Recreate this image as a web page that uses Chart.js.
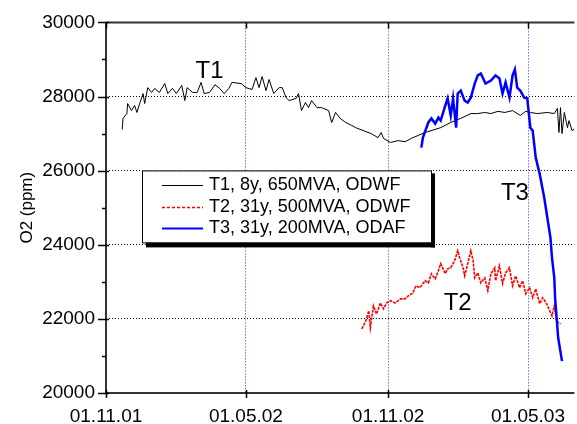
<!DOCTYPE html>
<html>
<head>
<meta charset="utf-8">
<script src="https://cdn.jsdelivr.net/npm/chart.js@4"></script>
<style>
  body { margin: 0; background: #fff; }
  #wrap { width: 577px; height: 424px; }
</style>
</head>
<body>
<div id="wrap"><canvas id="o2Chart" width="577" height="424"></canvas></div>
<script>
// x values are days since 01.11.01
const xTickDays = [0, 181, 365, 546];
const xTickLabels = ['01.11.01', '01.05.02', '01.11.02', '01.05.03'];
const xMaxDay = 606;

const yMin = 20000;
const yMax = 30000;

const seriesNames = ['T1, 8y, 650MVA, ODWF', 'T2, 31y, 500MVA, ODWF', 'T3, 31y, 200MVA, ODAF'];
const seriesColors = ['#000000', '#ff0000', '#0000ff'];

const t1Days = [21, 22, 27, 28, 33, 37, 40, 44, 48, 50, 54, 59, 63, 69, 76, 80, 86, 91, 98, 102,
    105, 112, 118, 123, 127, 134, 141, 147, 153, 159, 163, 175, 181, 189, 194, 198, 202, 207, 211, 217,
    224, 228, 233, 237, 246, 249, 253, 258, 262, 266, 273, 279, 288, 292, 297, 303, 310, 318, 323, 343,
    352, 356, 359, 368, 378, 387, 395, 404, 413, 433, 446, 459, 472, 481, 490, 498, 507, 516, 526, 536,
    543, 549, 558, 571, 580, 584, 586, 588, 590, 593, 597, 599, 603, 606];
const t1Ppm = [27110, 27410, 27540, 27810, 27620, 27760, 27570, 27840, 28080, 27810, 28240, 28110, 28220, 28110, 28350, 28080, 28220, 28080, 28300, 27890,
    28240, 28110, 28110, 28380, 28080, 28110, 28320, 28220, 28080, 28220, 28380, 28350, 28240, 28190, 28510, 28240, 28540, 28160, 28460, 28080,
    28240, 28240, 27970, 27890, 27950, 28080, 27620, 27840, 27700, 27890, 27700, 27700, 27620, 27300, 27570, 27410, 27300, 27220, 27160, 27000,
    26890, 27030, 26870, 26760, 26810, 26780, 26870, 26950, 27030, 27160, 27300, 27410, 27540, 27540, 27570, 27540, 27600, 27570, 27620, 27490,
    27600, 27570, 27540, 27570, 27540, 27680, 27030, 27700, 27000, 27570, 27160, 27350, 27080, 27130];

const t2Days = [331, 336, 340, 342, 346, 350, 355, 359, 363, 368, 374, 381, 387, 391, 397, 401, 406, 413, 417, 421,
    426, 430, 433, 439, 442, 446, 451, 455, 458, 462, 464, 468, 472, 475, 477, 481, 485, 490, 494, 498,
    503, 504, 509, 513, 517, 522, 526, 530, 535, 539, 543, 548, 552, 556, 561, 565, 570, 574, 577, 580,
    583, 588];
const t2Ppm = [21730, 21940, 22220, 21760, 22350, 22130, 22430, 22270, 22430, 22490, 22430, 22540, 22540, 22620, 22700, 22890, 22840, 23030, 22970, 23220,
    23080, 23300, 23490, 23220, 23350, 23380, 23570, 23840, 23620, 23380, 23160, 23490, 23840, 23570, 23110, 23240, 22970, 23110, 22760, 23220,
    23380, 23030, 23430, 22950, 23240, 23380, 22890, 23160, 22840, 23030, 22680, 22840, 22570, 22810, 22410, 22570, 22410, 22220, 22080, 22350,
    21940, 21860];

const t3Days = [408, 410, 417, 421, 426, 430, 433, 439, 442, 446, 449, 453, 455, 459, 464, 468, 472, 477, 481, 485,
    491, 498, 504, 509, 513, 517, 522, 526, 529, 532, 536, 541, 545, 549, 552, 556, 561, 567, 571, 575,
    577, 580, 581, 583, 585, 590];
const t3Ppm = [26620, 26890, 27300, 27410, 27270, 27430, 27350, 27760, 27950, 27490, 27950, 27160, 28080, 28160, 27890, 27840, 27970, 28350, 28570, 28620,
    28350, 28430, 28570, 28490, 28080, 28380, 27970, 28570, 28730, 28240, 28160, 27970, 27950, 27160, 27080, 26350, 25920, 25270, 24730, 24190,
    23650, 23110, 22570, 22030, 21490, 20860];

// in-plot labels, placed in data coordinates
const tagText = ['T1', 'T2', 'T3'];
const tagDays = [134, 455, 529];
const tagPpm = [28680, 22430, 25380];

const FONT = "'Liberation Sans', Arial, sans-serif";

function toPoints(days, ppm) {
    return days.map((d, i) => ({ x: d, y: ppm[i] }));
}

const framePlugin = {
    id: 'frame',
    afterDatasetsDraw(chart) {
        const ctx = chart.ctx;
        const area = chart.chartArea;
        const xs = chart.scales.x;
        const ys = chart.scales.y;

        ctx.save();
        // axis lines
        ctx.strokeStyle = '#333';
        ctx.lineWidth = 2;
        ctx.beginPath();
        ctx.moveTo(area.left, area.top);
        ctx.lineTo(area.left, area.bottom);
        ctx.lineTo(area.right, area.bottom);
        ctx.moveTo(area.left, area.top);
        ctx.lineTo(area.right, area.top);
        ctx.stroke();

        // tick marks
        ctx.strokeStyle = '#000';
        ctx.lineWidth = 1.5;
        ctx.beginPath();
        for (let v = yMin; v <= yMax; v += 1000) {
            const py = Math.round(ys.getPixelForValue(v)) + 0.5;
            const major = v % 2000 === 0;
            ctx.moveTo(area.left - (major ? 8 : 4), py);
            ctx.lineTo(area.left + (major ? 3 : 0), py);
        }
        xTickDays.forEach(d => {
            const px = Math.round(xs.getPixelForValue(d)) + 0.5;
            ctx.moveTo(px, area.bottom - 3);
            ctx.lineTo(px, area.bottom + 5);
            ctx.moveTo(px, area.top);
            ctx.lineTo(px, area.top + 6);
        });
        ctx.stroke();

        // legend box with shadow
        const lx = area.left + 36, ly = area.top + 148, lw = 289, lh = 72;
        ctx.fillStyle = '#000';
        ctx.fillRect(lx + 4, ly + lh, lw, 5);
        ctx.fillRect(lx + lw, ly + 3, 4, lh + 2);
        ctx.fillStyle = '#fff';
        ctx.fillRect(lx, ly, lw, lh);
        ctx.strokeStyle = '#000';
        ctx.lineWidth = 1;
        ctx.strokeRect(lx + 0.5, ly + 0.5, lw, lh);

        ctx.font = '18px ' + FONT;
        ctx.textBaseline = 'middle';
        ctx.textAlign = 'left';
        seriesNames.forEach((name, i) => {
            const ry = Math.round(ly + 15 + i * 21.5) + 0.5;
            ctx.save();
            ctx.strokeStyle = seriesColors[i];
            ctx.lineWidth = i === 2 ? 2 : (i === 1 ? 1.5 : 1);
            ctx.setLineDash(i === 1 ? [3, 2] : []);
            ctx.beginPath();
            ctx.moveTo(lx + 20, ry);
            ctx.lineTo(lx + 61, ry);
            ctx.stroke();
            ctx.restore();
            ctx.fillStyle = '#000';
            ctx.fillText(name, lx + 67, ry);
        });

        // T1 / T2 / T3 tags
        ctx.font = '24px ' + FONT;
        ctx.textAlign = 'center';
        ctx.fillStyle = '#000';
        tagText.forEach((t, i) => {
            ctx.fillText(t, xs.getPixelForValue(tagDays[i]), ys.getPixelForValue(tagPpm[i]));
        });
        ctx.restore();
    }
};

const chart = new Chart(document.getElementById('o2Chart').getContext('2d'), {
    type: 'line',
    data: {
        datasets: [{
            label: seriesNames[0],
            data: toPoints(t1Days, t1Ppm),
            borderColor: seriesColors[0],
            borderWidth: 1,
            pointRadius: 0,
            tension: 0,
            order: 2
        }, {
            label: seriesNames[1],
            data: toPoints(t2Days, t2Ppm),
            borderColor: seriesColors[1],
            borderWidth: 1.6,
            borderDash: [3, 1],
            pointRadius: 0,
            tension: 0,
            order: 1
        }, {
            label: seriesNames[2],
            data: toPoints(t3Days, t3Ppm),
            borderColor: seriesColors[2],
            borderWidth: 2.5,
            pointRadius: 0,
            tension: 0,
            order: 0
        }]
    },
    options: {
        responsive: false,
        animation: false,
        devicePixelRatio: 1,
        layout: {
            padding: { top: 22, right: 0, bottom: 0, left: 0 }
        },
        plugins: {
            legend: { display: false },
            tooltip: { enabled: false }
        },
        scales: {
            x: {
                type: 'linear',
                min: 0,
                max: xMaxDay,
                afterBuildTicks: scale => {
                    scale.ticks = xTickDays.map(v => ({ value: v }));
                },
                afterFit: scale => {
                    scale.height = 31;
                },
                ticks: {
                    autoSkip: false,
                    maxRotation: 0,
                    padding: 12,
                    color: '#000',
                    font: { family: FONT, size: 19 },
                    callback: v => xTickLabels[xTickDays.indexOf(v)]
                },
                grid: {
                    drawTicks: false,
                    lineWidth: 1,
                    color: c => (c.tick && c.tick.value === 0) ? 'rgba(0,0,0,0)' : '#2a2aff'
                },
                border: { display: false, dash: [1, 2] }
            },
            y: {
                min: yMin,
                max: yMax,
                afterFit: scale => {
                    scale.width = 106;
                },
                ticks: {
                    stepSize: 1000,
                    padding: 11,
                    color: '#000',
                    font: { family: FONT, size: 19 },
                    callback: v => (v % 2000 === 0 ? String(v) : '')
                },
                grid: {
                    drawTicks: false,
                    lineWidth: 1,
                    color: c => {
                        const v = c.tick ? c.tick.value : 0;
                        return (v % 2000 === 0 && v > yMin && v < yMax) ? '#000' : 'rgba(0,0,0,0)';
                    }
                },
                border: { display: false, dash: [1, 2] },
                title: {
                    display: true,
                    text: 'O2 (ppm)',
                    color: '#000',
                    font: { family: FONT, size: 17 },
                    padding: { top: 17, bottom: 0 }
                }
            }
        }
    },
    plugins: [framePlugin]
});
</script>
</body>
</html>
